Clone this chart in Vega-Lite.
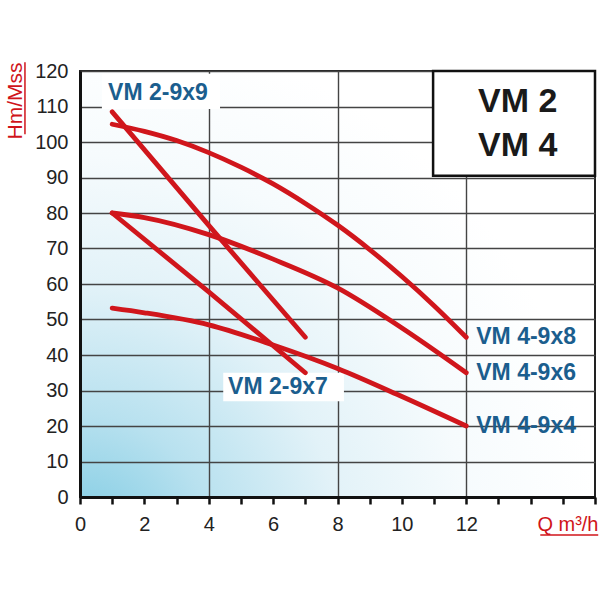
{
  "$schema": "https://vega.github.io/schema/vega-lite/v6.json",
  "width": 515,
  "height": 426,
  "autosize": "none",
  "padding": {"left": 80, "top": 71, "right": 5, "bottom": 103},
  "background": "white",
  "config": {"font": "Liberation Sans, sans-serif"},
  "view": {
    "stroke": "#222",
    "strokeWidth": 2,
    "fill": {
      "gradient": "radial",
      "x1": 0, "y1": 1, "r1": 0,
      "x2": 0, "y2": 1, "r2": 1,
      "stops": [
        {"offset": 0, "color": "#7ccae2"},
        {"offset": 0.25, "color": "#b8e1ef"},
        {"offset": 0.5, "color": "#e2f2f8"},
        {"offset": 0.75, "color": "#f6fbfd"},
        {"offset": 1, "color": "#ffffff"}
      ]
    }
  },
  "datasets": {
    "curves": [
      {"series": "VM 4-9x8", "q": 1, "h": 105},
      {"series": "VM 4-9x8", "q": 2, "h": 103},
      {"series": "VM 4-9x8", "q": 3, "h": 100.4},
      {"series": "VM 4-9x8", "q": 4, "h": 97},
      {"series": "VM 4-9x8", "q": 5, "h": 92.9},
      {"series": "VM 4-9x8", "q": 6, "h": 88.2},
      {"series": "VM 4-9x8", "q": 7, "h": 82.7},
      {"series": "VM 4-9x8", "q": 8, "h": 76.6},
      {"series": "VM 4-9x8", "q": 9, "h": 69.7},
      {"series": "VM 4-9x8", "q": 10, "h": 62.1},
      {"series": "VM 4-9x8", "q": 11, "h": 53.9},
      {"series": "VM 4-9x8", "q": 12, "h": 45},
      {"series": "VM 4-9x6", "q": 1, "h": 80},
      {"series": "VM 4-9x6", "q": 2, "h": 78.7},
      {"series": "VM 4-9x6", "q": 4, "h": 73.9},
      {"series": "VM 4-9x6", "q": 6, "h": 67},
      {"series": "VM 4-9x6", "q": 8, "h": 58.9},
      {"series": "VM 4-9x6", "q": 10, "h": 47.6},
      {"series": "VM 4-9x6", "q": 12, "h": 35},
      {"series": "VM 4-9x4", "q": 1, "h": 53.2},
      {"series": "VM 4-9x4", "q": 2, "h": 51.9},
      {"series": "VM 4-9x4", "q": 4, "h": 48.5},
      {"series": "VM 4-9x4", "q": 6, "h": 42.8},
      {"series": "VM 4-9x4", "q": 8, "h": 36.2},
      {"series": "VM 4-9x4", "q": 10, "h": 28.3},
      {"series": "VM 4-9x4", "q": 12, "h": 20},
      {"series": "VM 2-9x9", "q": 1, "h": 108.5},
      {"series": "VM 2-9x9", "q": 4, "h": 76.5},
      {"series": "VM 2-9x9", "q": 7, "h": 45},
      {"series": "VM 2-9x7", "q": 1, "h": 80},
      {"series": "VM 2-9x7", "q": 4, "h": 57.8},
      {"series": "VM 2-9x7", "q": 7, "h": 35}
    ],
    "freeLabels": [
      {"series": "VM 2-9x9", "q": 2.42, "h": 113.8},
      {"series": "VM 2-9x7", "q": 6.15, "h": 31}
    ],
    "masks": [
      {"q": 0.68, "q2": 4.35, "h": 109.3, "h2": 119.2},
      {"q": 4.45, "q2": 8.2, "h": 27, "h2": 35}
    ],
    "box": [
      {"q": 10.97, "q2": 16, "h": 90.5, "h2": 120}
    ],
    "boxText": [
      {"text": "VM 2", "q": 13.6, "h": 111.2},
      {"text": "VM 4", "q": 13.6, "h": 99}
    ],
    "underlines": [
      {"q": -1.71, "q2": -1.71, "h": 102.2, "h2": 122.5},
      {"q": 14.3, "q2": 16.1, "h": -10.7, "h2": -10.7}
    ]
  },
  "encoding": {
    "x": {"field": "q", "type": "quantitative",
      "scale": {"domain": [0, 16], "nice": false, "zero": false},
      "axis": {
        "values": [0,1,2,3,4,5,6,7,8,9,10,11,12,13,14,15,16],
        "labelExpr": "datum.value <= 12 && datum.value % 2 == 0 ? datum.label : ''",
        "tickSize": 7, "tickWidth": 2.5, "tickColor": "#111",
        "domainColor": "#111", "domainWidth": 3,
        "labelFontSize": 20, "labelColor": "#222", "labelPadding": 10,
        "labelFlush": false, "labelOverlap": false,
        "grid": true, "gridColor": "#444", "gridWidth": 1.4,
        "gridOpacity": {"condition": {"test": "datum.value % 4 == 0 && datum.value > 0 && datum.value < 16", "value": 1}, "value": 0},
        "title": "Q m³/h", "titleColor": "#d0141a", "titleFontSize": 20,
        "titleFontWeight": "normal", "titleAnchor": "end", "titleAlign": "right",
        "titleX": 518, "titleY": 33, "titleBaseline": "alphabetic"
      }},
    "y": {"field": "h", "type": "quantitative",
      "scale": {"domain": [0, 120], "nice": false, "zero": false},
      "axis": {
        "values": [0,10,20,30,40,50,60,70,80,90,100,110,120],
        "ticks": false, "domainColor": "#111", "domainWidth": 3,
        "labelFontSize": 20, "labelColor": "#222", "labelPadding": 12,
        "labelFlush": false, "labelOverlap": false,
        "grid": true, "gridColor": "#444", "gridWidth": 1.4,
        "title": "Hm/Mss", "titleColor": "#d0141a", "titleFontSize": 21,
        "titleFontWeight": "normal", "titleAnchor": "end", "titleAlign": "right",
        "titleAngle": -90, "titleX": -59, "titleY": -9, "titleBaseline": "alphabetic"
      }}
  },
  "layer": [
    {
      "data": {"name": "masks"},
      "mark": {"type": "rect", "fill": "white", "strokeWidth": 0},
      "encoding": {"x2": {"field": "q2"}, "y2": {"field": "h2"}}
    },
    {
      "data": {"name": "box"},
      "mark": {"type": "rect", "fill": "white", "stroke": "#111", "strokeWidth": 2.5},
      "encoding": {"x2": {"field": "q2"}, "y2": {"field": "h2"}}
    },
    {
      "data": {"name": "curves"},
      "mark": {"type": "line", "color": "#d0161c", "strokeWidth": 4.8, "strokeCap": "round", "interpolate": "monotone"},
      "encoding": {"detail": {"field": "series"}}
    },
    {
      "data": {"name": "curves"},
      "transform": [{"filter": "datum.q == 12"}],
      "mark": {"type": "text", "align": "left", "baseline": "middle", "dx": 10, "fontSize": 23, "fontWeight": "bold", "color": "#1b5e8e"},
      "encoding": {"text": {"field": "series"}}
    },
    {
      "data": {"name": "freeLabels"},
      "mark": {"type": "text", "align": "center", "baseline": "middle", "fontSize": 23, "fontWeight": "bold", "color": "#1b5e8e"},
      "encoding": {"text": {"field": "series"}}
    },
    {
      "data": {"name": "boxText"},
      "mark": {"type": "text", "align": "center", "baseline": "middle", "fontSize": 34, "fontWeight": "bold", "color": "#1a1a1a"},
      "encoding": {"text": {"field": "text"}}
    },
    {
      "data": {"name": "underlines"},
      "mark": {"type": "rule", "color": "#d0141a", "strokeWidth": 1.5, "clip": false},
      "encoding": {"x2": {"field": "q2"}, "y2": {"field": "h2"}}
    }
  ]
}
